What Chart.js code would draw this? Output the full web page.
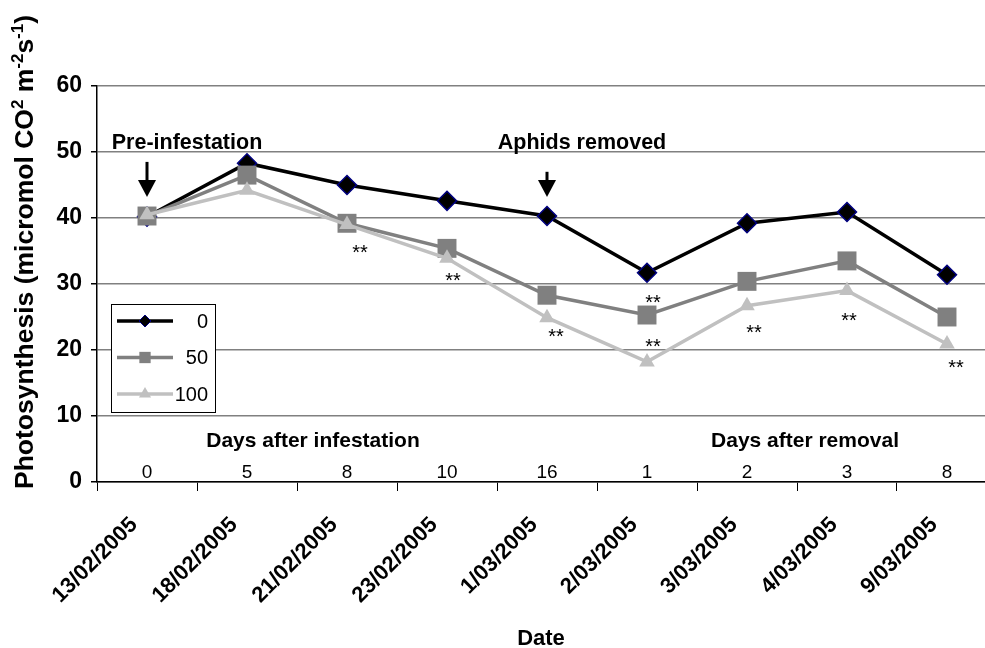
<!DOCTYPE html>
<html><head><meta charset="utf-8">
<script src="https://cdn.jsdelivr.net/npm/chart.js@4/dist/chart.umd.min.js"></script>
<style>html,body{margin:0;padding:0;background:#fff}canvas{display:block}</style>
</head><body>
<canvas id="c" width="985" height="648"></canvas>
<script>
// ---- data ----
const dates = ['13/02/2005','18/02/2005','21/02/2005','23/02/2005','1/03/2005','2/03/2005','3/03/2005','4/03/2005','9/03/2005'];
const dayLabels = ['0','5','8','10','16','1','2','3','8'];
const seriesNames = ['0','50','100'];
const series0   = [40.2, 48.3, 45.0, 42.6, 40.3, 31.7, 39.2, 40.9, 31.4];
const series50  = [40.3, 46.5, 39.2, 35.4, 28.3, 25.3, 30.4, 33.5, 25.0];
const series100 = [40.5, 44.2, 39.0, 33.9, 24.9, 18.2, 26.7, 29.0, 20.9];
const yTicks = [0, 10, 20, 30, 40, 50, 60];
// significance marks "**" (x in category units, y in data units)
const sigText = '**';
const sigX = [2.13, 3.06, 4.09, 5.06, 5.06, 6.07, 7.02, 8.09];
const sigY = [35.4, 31.2, 22.7, 27.9, 21.2, 23.3, 25.2, 18.0];
// group captions
const groupLabels = ['Days after infestation', 'Days after removal'];
const groupX = [1.66, 6.58];
const groupY = 5.3;
const dayRowY = 0.6;
// events with arrows
const eventLabels = ['Pre-infestation', 'Aphids removed'];
const eventTextX = [0.4, 4.35];
const eventTextY = 50.4;
const eventArrowX = [0, 4];
const eventArrowTop = [48.5, 47.0];
const eventArrowTip = [43.2, 43.2];
const xTitle = 'Date';
const yTitleParts = [['Photosynthesis (micromol CO', 0], ['2', 1], [' m', 0], ['-2', 1], ['s', 0], ['-1', 1], [')', 0]];

const FONT = '"Liberation Sans", Arial, sans-serif';

const extras = {
  id: 'extras',
  afterDatasetsDraw(chart) {
    const ctx = chart.ctx, xs = chart.scales.x, ys = chart.scales.y;
    ctx.save();
    ctx.fillStyle = '#000';
    // day numbers
    ctx.font = '19px ' + FONT;
    ctx.textAlign = 'center'; ctx.textBaseline = 'alphabetic';
    dayLabels.forEach((t, i) => ctx.fillText(t, xs.getPixelForValue(i), ys.getPixelForValue(dayRowY)));
    // group captions
    ctx.font = 'bold 21px ' + FONT;
    groupLabels.forEach((t, i) => ctx.fillText(t, xs.getPixelForValue(groupX[i]), ys.getPixelForValue(groupY)));
    // events
    eventLabels.forEach((t, i) => {
      ctx.font = 'bold 21.5px ' + FONT;
      ctx.fillText(t, xs.getPixelForValue(eventTextX[i]), ys.getPixelForValue(eventTextY));
      const x = xs.getPixelForValue(eventArrowX[i]);
      const y1 = ys.getPixelForValue(eventArrowTop[i]);
      const y2 = ys.getPixelForValue(eventArrowTip[i]);
      ctx.strokeStyle = '#000'; ctx.lineWidth = 3;
      ctx.beginPath(); ctx.moveTo(x, y1); ctx.lineTo(x, y2 - 14); ctx.stroke();
      ctx.beginPath(); ctx.moveTo(x - 9, y2 - 17); ctx.lineTo(x + 9, y2 - 17); ctx.lineTo(x, y2); ctx.closePath(); ctx.fill();
    });
    // significance
    ctx.font = '20px ' + FONT;
    sigX.forEach((v, i) => ctx.fillText(sigText, xs.getPixelForValue(v), ys.getPixelForValue(sigY[i]) + 11));
    // legend box
    const L = 111, T = 304, R = 215, B = 412;
    ctx.fillStyle = '#fff'; ctx.fillRect(L, T, R - L, B - T);
    ctx.strokeStyle = '#000'; ctx.lineWidth = 1; ctx.strokeRect(L + 0.5, T + 0.5, R - L, B - T);
    chart.data.datasets.forEach((d, i) => {
      const y = 321 + i * 36.5;
      ctx.strokeStyle = d.borderColor; ctx.lineWidth = 3.5;
      ctx.beginPath(); ctx.moveTo(117, y); ctx.lineTo(173, y); ctx.stroke();
      ctx.fillStyle = d.pointBackgroundColor; ctx.strokeStyle = d.pointBorderColor;
      ctx.lineWidth = d.legendBorder;
      Chart.helpers.drawPoint(ctx, {pointStyle: d.pointStyle, radius: d.legendRadius, borderWidth: d.legendBorder, rotation: 0}, 145, y);
      ctx.fillStyle = '#000'; ctx.font = '20px ' + FONT; ctx.textAlign = 'right'; ctx.textBaseline = 'middle';
      ctx.fillText(d.label, 208, y + 1);
      ctx.textAlign = 'center'; ctx.textBaseline = 'alphabetic';
    });
    // y title with superscripts
    ctx.translate(33, 489); ctx.rotate(-Math.PI / 2);
    ctx.fillStyle = '#000'; ctx.textAlign = 'left';
    let px = 0;
    yTitleParts.forEach(([t, s]) => {
      ctx.font = 'bold ' + (s ? 17 : 26.5) + 'px ' + FONT;
      ctx.fillText(t, px, s ? -10 : 0);
      px += ctx.measureText(t).width;
    });
    ctx.restore();
  }
};

const pts = arr => arr.map((y, i) => ({x: i, y}));

new Chart(document.getElementById('c'), {
  type: 'line',
  data: {
    datasets: [
      {label: seriesNames[0], data: pts(series0), borderColor: '#000000', backgroundColor: '#000000', borderWidth: 3.5,
       pointStyle: 'rectRot', pointRadius: 9.5, pointBackgroundColor: '#000000', pointBorderColor: '#000080', pointBorderWidth: 1.5,
       legendRadius: 6, legendBorder: 1, order: 3},
      {label: seriesNames[1], data: pts(series50), borderColor: '#808080', backgroundColor: '#808080', borderWidth: 3.5,
       pointStyle: 'rect', pointRadius: 13.4, pointBackgroundColor: '#808080', pointBorderColor: '#808080', pointBorderWidth: 0,
       legendRadius: 8, legendBorder: 0, order: 2},
      {label: seriesNames[2], data: pts(series100), borderColor: '#c0c0c0', backgroundColor: '#c0c0c0', borderWidth: 3.5,
       pointStyle: 'triangle', pointRadius: 9, pointBackgroundColor: '#c0c0c0', pointBorderColor: '#c0c0c0', pointBorderWidth: 0,
       legendRadius: 7, legendBorder: 0, order: 1}
    ]
  },
  options: {
    responsive: false, animation: false, devicePixelRatio: 1,
    layout: {autoPadding: false, padding: {top: 86, right: 0, left: 0, bottom: 0}},
    elements: {line: {tension: 0}},
    plugins: {legend: {display: false}, tooltip: {enabled: false}},
    scales: {
      x: {
        type: 'linear', min: -0.5, max: 8.38,
        afterBuildTicks: s => { s.ticks = dates.map((d, i) => ({value: i})); },
        afterFit: s => { s.height = 166; s.paddingLeft = 0; s.paddingRight = 0; },
        grid: {offset: true, drawOnChartArea: false, drawTicks: true, tickLength: 9, color: '#000'},
        border: {color: '#000', width: 1.5},
        ticks: {autoSkip: false, minRotation: 45, maxRotation: 45, color: '#000', padding: 21, labelOffset: -13,
                font: {family: FONT, size: 22, weight: 'bold'}, callback: v => dates[v]},
        title: {display: true, text: xTitle, color: '#000', font: {family: FONT, size: 22, weight: 'bold'}, padding: {top: 0, bottom: -4}}
      },
      y: {
        min: 0, max: 60,
        afterBuildTicks: s => { s.ticks = yTicks.map(v => ({value: v})); },
        afterFit: s => { s.width = 97; },
        grid: {color: '#808080', lineWidth: 1.5, tickLength: 6, tickColor: '#000'},
        border: {color: '#000', width: 1.5},
        ticks: {color: '#000', padding: 9, font: {family: FONT, size: 23, weight: 'bold'}}
      }
    }
  },
  plugins: [extras]
});
</script>
</body></html>
